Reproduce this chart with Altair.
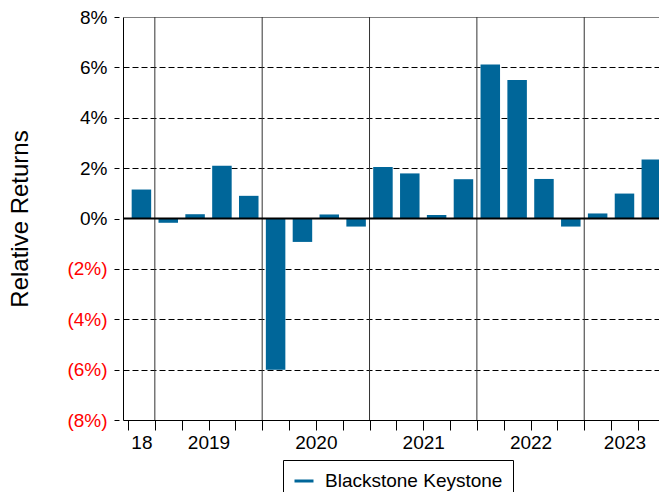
import altair as alt
import pandas as pd

# ---- data ----
year_names = ["18", "2019", "2020", "2021", "2022", "2023"]
quarters_per_year = [1, 4, 4, 4, 4, 3]
returns = [1.15,
           -0.17, 0.17, 2.09, 0.90,
           -6.00, -0.93, 0.16, -0.32,
           2.04, 1.79, 0.14, 1.56,
           6.11, 5.50, 1.57, -0.32,
           0.20, 0.99, 2.34]
series_name = "Blackstone Keystone"
y_ticks = [-8, -6, -4, -2, 0, 2, 4, 6, 8]

BAR_COLOR = "#006699"

# ---- derived tables ----
n_q = len(returns)
bars_df = pd.DataFrame({
    "pos": [i + 0.5 for i in range(n_q)],
    "ret": returns,
    "series": [series_name] * n_q,
})

starts = []
s = 0
for n in quarters_per_year:
    starts.append(s)
    s += n
year_bounds_df = pd.DataFrame({"b": starts[1:]})
label_pos = [st + n / 2 for st, n in zip(starts, quarters_per_year)]

label_expr = ""
for p, name in zip(label_pos, year_names):
    label_expr += f"datum.value == {p} ? '{name}' : "
label_expr += "''"

x_values = sorted(set(float(v) for v in range(n_q)) | set(label_pos))

zero_df = pd.DataFrame({"z": [0]})

# the reference is cut off at the right edge: show ~19.6 quarters
x_scale = alt.Scale(domain=[0, 19.6], nice=False, zero=False)
y_scale = alt.Scale(domain=[-8, 8], nice=False)

x_axis = alt.Axis(
    values=x_values,
    labelExpr=label_expr,
    labelOverlap=False,
    labelFlush=False,
    labelBound=False,
    labelFontSize=19,
    labelColor="#000000",
    labelPadding=3,
    tickSize=10,
    tickColor="#000000",
    tickOpacity={"expr": "datum.value % 1 == 0 ? 1 : 0"},
    domainColor="#000000",
    grid=False,
    title=None,
)

y_axis = alt.Axis(
    values=y_ticks,
    labelExpr="datum.value < 0 ? '(' + abs(datum.value) + '%)' : datum.value + '%'",
    labelColor={"expr": "datum.value < 0 ? '#ff0000' : '#000000'"},
    labelFontSize=19,
    labelPadding=7,
    tickSize=9,
    tickColor="#000000",
    tickDash=[5, 4],
    tickDashOffset=5,
    domainColor="#000000",
    grid=True,
    gridColor={"expr": "datum.value == 8 ? '#808080' : '#000000'"},
    gridDash={"expr": "datum.value == 8 ? [] : [6, 3]"},
    gridOpacity={"expr": "datum.value == -8 || datum.value == 0 ? 0 : 1"},
    title="Relative Returns",
    titleFontSize=24,
    titleFontWeight="normal",
    titleColor="#000000",
    titleAngle=270,
    titleAlign="center",
    titleBaseline="alphabetic",
    titleX=-96,
    titleY=201.5,
)

year_lines = alt.Chart(year_bounds_df).mark_rule(color="#333333", strokeWidth=1).encode(
    x=alt.X("b:Q", scale=x_scale, axis=x_axis)
)

bars = alt.Chart(bars_df).mark_bar(size=19.5, clip=True).encode(
    x=alt.X("pos:Q", scale=x_scale, axis=x_axis),
    y=alt.Y("ret:Q", scale=y_scale, axis=y_axis),
    color=alt.Color(
        "series:N",
        scale=alt.Scale(domain=[series_name], range=[BAR_COLOR]),
        legend=alt.Legend(
            title=None,
            orient="none",
            legendX=160,
            legendY=443,
            padding=10,
            strokeColor="#000000",
            fillColor="#ffffff",
            symbolType="stroke",
            symbolStrokeColor=BAR_COLOR,
            symbolStrokeWidth=3,
            symbolSize=361,
            labelFontSize=19,
            labelColor="#000000",
            labelOffset=10,
            labelLimit=400,
        ),
    ),
)

zero_line = alt.Chart(zero_df).mark_rule(color="#000000", strokeWidth=2).encode(
    y=alt.Y("z:Q", scale=y_scale)
)

chart = alt.layer(year_lines, bars, zero_line).properties(
    width=536,
    height=403,
    autosize=alt.AutoSizeParams(type="none"),
    padding={"left": 115, "top": 9, "right": 0, "bottom": 72},
).configure(
    font="Liberation Sans",
).configure_view(
    stroke="transparent",
)

chart.save("out.html", embed_options={"renderer": "svg", "actions": False})
